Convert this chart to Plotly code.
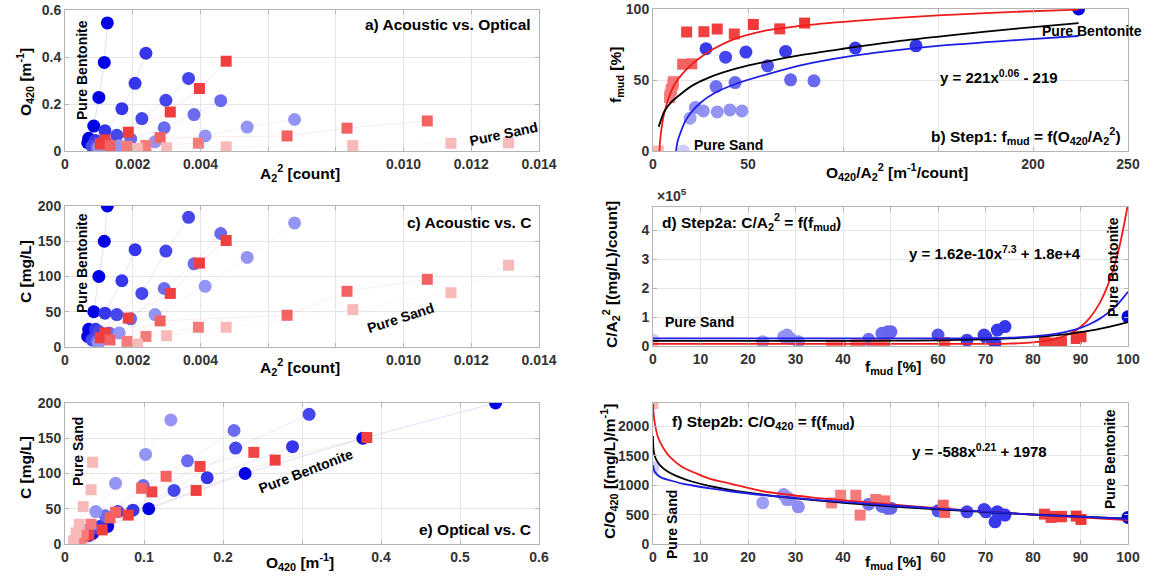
import plotly.graph_objects as go

W, H = 1149, 578

# ---------------- Panels a, c, e : per-series measurements ----------------
# A2^2 [count], O420 [1/m], C [mg/L]
bent100_A = [0.00067, 0.00070, 0.00085, 0.00100, 0.00116, 0.00125]
bent100_O = [0.035, 0.054, 0.106, 0.228, 0.377, 0.545]
bent100_C = [15, 25, 50, 100, 150, 200]

mixB74_A = [0.00085, 0.00090, 0.00118, 0.00168, 0.00207, 0.00239]
mixB74_O = [0.030, 0.045, 0.086, 0.180, 0.288, 0.416]
mixB74_C = [12, 25, 48, 94, 138, None]

mixB66_A = [0.00080, 0.00100, 0.00153, 0.00227, 0.00298, 0.00365]
mixB66_O = [0.020, 0.035, 0.067, 0.138, 0.216, 0.309]
mixB66_C = [10, 22, 46, 76, 136, 184]

mixB48_A = [0.00095, 0.00130, 0.00194, 0.00293, 0.00381, 0.00460]
mixB48_O = [0.015, 0.028, 0.051, 0.099, 0.155, 0.214]
mixB48_C = [8, 20, 40, 83, 118, 161]

mixB28_A = [0.00100, 0.00160, 0.00266, 0.00414, 0.00538, 0.00678]
mixB28_O = [0.012, 0.022, 0.039, 0.064, 0.102, 0.134]
mixB28_C = [6, 20, 46, 86, 127, 176]

mudR86_A = [0.00104, 0.00118, 0.00187, 0.00311, 0.00397, 0.00476]
mudR86_O = [0.030, 0.047, 0.080, 0.166, 0.266, 0.382]
mudR86_C = [13, 20, 41, 76, 119, 151]

mudR84_A = [None, None, None]
mudR84_O = [0.110, 0.171, 0.239]
mudR84_C = [74, 110, 130]

mudR61_A = [0.00133, 0.00281, 0.00656, 0.00833, 0.01070]
mudR61_O = [0.023, 0.057, 0.064, 0.097, 0.128]
mudR61_C = [10, 37, 45, 79, 96]

mudR43_A = [0.00183, 0.00239, 0.00394]
mudR43_O = [0.020, 0.023, 0.033]
mudR43_C = [8, 15, 28]

sandR0_A = [0.00214, 0.00300, 0.00476, 0.00850, 0.01140, 0.01310]
sandR0_O = [0.011, 0.014, 0.018, 0.023, 0.033, 0.035]
sandR0_C = [4, 16, 28, 53, 77, 116]

# ---------------- Panels b, d, f : per-series ratios ----------------
blue_fmud = [0, 23.1, 27.5, 28.2, 28.2, 28.9, 30.6, 45.4, 48.2, 49.4, 50.1, 60.0, 66.1, 69.7, 70.1, 72.0, 72.5, 74.1, 100]
blue_OA = [16, 19.5, 33.8, 26.5, 46.8, 40.5, 22.3, 33.2, 43.2, 84.7, 72.4, 60.3, 38.2, 48.9, 69.8, 27.9, 106.5, 138.4, 224]
blue_CA = [0.20, 0.15, 0.32, 0.38, 0.30, 0.26, 0.15, 0.23, 0.44, 0.49, 0.49, 0.38, 0.20, 0.38, 0.30, 0.10, 0.55, 0.67, 1.01]
blue_CO = [1300, 700, 842, 757, 800, 760, 632, 678, 640, 605, 610, 565, 548, 588, 548, 378, 548, 492, 452]

red_fmud = [0, 37.6, 39.5, 42.7, 43.6, 46.9, 48.8, 61.1, 61.4, 82.4, 83.8, 84.0, 85.9, 86.0, 89.1, 90.1]
red_OA = [2.8, 8.7, 8.9, 9.5, 9.8, 10.5, 10.7, 15.6, 20.4, 42.8, 17.7, 26.8, 33.8, 66.7, 52.8, 79.8]
red_CA = [0.03, 0.03, 0.03, 0.04, 0.03, 0.04, 0.05, 0.11, 0.11, 0.15, 0.09, 0.10, 0.11, 0.13, 0.26, 0.32]
red_CO = [2390, 700, 830, 830, 492, 757, 734, 661, 537, 508, 452, 470, 463, 470, 475, 418]

# ---------------- fitted curves ----------------
fb_black_x = [3, 4, 6, 10, 15, 20, 30, 45, 60, 80, 100, 130, 160, 190, 224]
fb_black_y = [17, 21, 28, 35, 40.5, 45.5, 52, 58.5, 63, 68, 72, 77.5, 82, 86, 90]
fb_red_x = [3.4, 3.8, 4.5, 5.5, 7, 9, 11, 14, 18, 24, 32, 43, 58, 80, 110, 150, 190, 224]
fb_red_y = [0, 8, 16, 24, 32, 40, 46, 52, 58, 65, 72, 79, 84.5, 88.5, 92, 95.5, 98, 99.5]
fb_blue_x = [12.1, 13, 14.5, 17, 20, 25, 32, 43, 60, 80, 100, 125, 150, 190, 224]
fb_blue_y = [0, 7, 13, 21, 27, 34, 40.5, 47, 54, 61, 66, 70.5, 74, 78, 81]

fd_x = [0, 40, 50, 60, 70, 75, 80, 85, 88, 90, 92, 94, 96, 98, 100]
fd_black = [0.18, 0.18, 0.184, 0.196, 0.228, 0.26, 0.306, 0.376, 0.43, 0.478, 0.53, 0.59, 0.66, 0.74, 0.825]
fd_blue = [0.26, 0.26, 0.26, 0.261, 0.271, 0.289, 0.331, 0.425, 0.529, 0.628, 0.761, 0.937, 1.169, 1.473, 1.87]
fd_red = [0.07, 0.07, 0.07, 0.07, 0.074, 0.085, 0.126, 0.257, 0.445, 0.657, 0.981, 1.471, 2.205, 3.295, 4.9]

ff_black_x = [0.001, 0.01, 0.1, 0.3, 0.7, 1.5, 3, 5, 8, 12, 20, 30, 45, 60, 80, 100]
ff_black_y = [1840, 1754, 1615, 1521, 1432, 1338, 1237, 1154, 1068, 987, 875, 777, 670, 589, 502, 432]
ff_red_x = [0.02, 0.1, 0.4, 1, 1.5, 2.5, 3.6, 6, 9.2, 12, 16.2, 23.2, 33.7, 44.3, 55, 65, 75, 85, 100]
ff_red_y = [2385, 2250, 2046, 1830, 1734, 1590, 1480, 1320, 1198, 1110, 1029, 898, 791, 717, 640, 580, 525, 475, 407]
ff_blue_x = [0.02, 0.2, 0.5, 1, 2, 3.6, 6, 9.2, 12, 16.2, 23.2, 33.7, 44.3, 55, 65, 75, 85, 100]
ff_blue_y = [1339, 1260, 1215, 1170, 1120, 1085, 1030, 983, 945, 898, 831, 757, 690, 630, 575, 525, 480, 430]

# ---------------- ticks (labelled) and unlabelled grid positions ----------------
tick_A = [0, 0.002, 0.004, 0.010, 0.012, 0.014]
tick_A_txt = ['0', '0.002', '0.004', '0.010', '0.012', '0.014']
grid_A = [0.006, 0.008]
tick_O = [0, 0.2, 0.4, 0.6]
tick_O_txt = ['0', '0.2', '0.4', '0.6']
tick_C = [0, 50, 100, 150, 200]
tick_OA = [0, 50, 200, 250]
grid_OA = [100, 150]
tick_f100 = [0, 50, 100]
tick_fm = [0, 10, 20, 30, 40, 60, 70, 80, 90, 100]
grid_fm = [50]
tick_CA = [0, 1, 2, 3, 4]
tick_Oe = [0, 0.1, 0.2, 0.4, 0.5, 0.6]
tick_Oe_txt = ['0', '0.1', '0.2', '0.4', '0.5', '0.6']
grid_Oe = [0.3]
tick_CO = [0, 500, 1000, 1500, 2000]

FONT = "Liberation Sans, Arial, Helvetica, sans-serif"


def colour(kind, f):
    if kind == 'b':
        t = f / 100.0
        c0, c1 = (205, 205, 250), (0, 0, 230)
    else:
        t = min(f / 90.0, 1.0)
        c0, c1 = (250, 185, 185), (240, 55, 55)
    return 'rgb(%d,%d,%d)' % tuple(round(a + (b - a) * t) for a, b in zip(c0, c1))


def rgba(kind, f, a):
    c = colour(kind, f)[4:-1]
    return 'rgba(%s,%s)' % (c, a)


fig = go.Figure()

series = [
    ('b', 100, bent100_A, bent100_O, bent100_C),
    ('b', 74, mixB74_A, mixB74_O, mixB74_C),
    ('b', 66, mixB66_A, mixB66_O, mixB66_C),
    ('b', 48, mixB48_A, mixB48_O, mixB48_C),
    ('b', 28, mixB28_A, mixB28_O, mixB28_C),
    ('r', 86, mudR86_A, mudR86_O, mudR86_C),
    ('r', 80, mudR84_A, mudR84_O, mudR84_C),
    ('r', 61, mudR61_A, mudR61_O, mudR61_C),
    ('r', 43, mudR43_A, mudR43_O, mudR43_C),
    ('r', 0, sandR0_A, sandR0_O, sandR0_C),
]

for kind, f, A, O, C in series:
    sym = 'circle' if kind == 'b' else 'square'
    size = 13 if kind == 'b' else 11
    mk = dict(symbol=sym, size=size, color=colour(kind, f), line=dict(width=0))
    ln = dict(color=rgba(kind, f, 0.16), width=0.8)
    for (xs, ys, xa, ya) in [(A, O, 'x', 'y'), (A, C, 'x3', 'y3'), (O, C, 'x5', 'y5')]:
        fig.add_trace(go.Scatter(x=xs, y=ys, mode='lines+markers', marker=mk, line=ln,
                                 connectgaps=True, xaxis=xa, yaxis=ya, hoverinfo='skip'))

bcol = [colour('b', f) for f in blue_fmud]
rcol = [colour('r', f) for f in red_fmud]

for (bx, by, rx, ry, xa, ya) in [
    (blue_OA, blue_fmud, red_OA, red_fmud, 'x2', 'y2'),
    (blue_fmud, blue_CA, red_fmud, red_CA, 'x4', 'y4'),
    (blue_fmud, blue_CO, red_fmud, red_CO, 'x6', 'y6'),
]:
    fig.add_trace(go.Scatter(x=bx, y=by, mode='markers', xaxis=xa, yaxis=ya, hoverinfo='skip',
                             marker=dict(symbol='circle', size=13, color=bcol, line=dict(width=0))))
    fig.add_trace(go.Scatter(x=rx, y=ry, mode='markers', xaxis=xa, yaxis=ya, hoverinfo='skip',
                             marker=dict(symbol='square', size=11, color=rcol, line=dict(width=0))))

RED, BLUE, BLACK = '#ee1c1c', '#1e1ee6', '#000000'
for (x, y, c, xa, ya) in [
    (fb_red_x, fb_red_y, RED, 'x2', 'y2'),
    (fb_black_x, fb_black_y, BLACK, 'x2', 'y2'),
    (fb_blue_x, fb_blue_y, BLUE, 'x2', 'y2'),
    (fd_x, fd_red, RED, 'x4', 'y4'),
    (fd_x, fd_black, BLACK, 'x4', 'y4'),
    (fd_x, fd_blue, BLUE, 'x4', 'y4'),
    (ff_red_x, ff_red_y, RED, 'x6', 'y6'),
    (ff_black_x, ff_black_y, BLACK, 'x6', 'y6'),
    (ff_blue_x, ff_blue_y, BLUE, 'x6', 'y6'),
]:
    fig.add_trace(go.Scatter(x=x, y=y, mode='lines', line=dict(color=c, width=1.8, shape='spline', smoothing=0.8),
                             xaxis=xa, yaxis=ya, hoverinfo='skip'))


def dx(p0, p1):
    return [p0 / W, p1 / W]


def dy(p0, p1):
    return [1 - p1 / H, 1 - p0 / H]


GRID = '#e6e6e6'
FRAME = '#b4b4b4'
TF = dict(family=FONT, size=14, color='#333333', weight='bold')
base = dict(showgrid=True, gridcolor=GRID, gridwidth=1, showline=True, linecolor=FRAME,
            linewidth=1, mirror='ticks', ticks='inside', ticklen=4, tickcolor=FRAME,
            zeroline=False, tickfont=TF, tickmode='array', automargin=False)


def minor(vals):
    return dict(tickmode='array', tickvals=vals, showgrid=True, gridcolor=GRID, gridwidth=1,
                ticks='inside', ticklen=4, tickcolor=FRAME)


lay = {}
lay['xaxis'] = dict(base, domain=dx(65, 539), range=[0, 0.014], tickvals=tick_A, ticktext=tick_A_txt,
                    minor=minor(grid_A), anchor='y')
lay['yaxis'] = dict(base, domain=dy(10, 151), range=[0, 0.6], tickvals=tick_O, ticktext=tick_O_txt, anchor='x')
lay['xaxis2'] = dict(base, domain=dx(653, 1128), range=[0, 250], tickvals=tick_OA, minor=minor(grid_OA), anchor='y2')
lay['yaxis2'] = dict(base, domain=dy(9, 151), range=[0, 100], tickvals=tick_f100, anchor='x2')
lay['xaxis3'] = dict(base, domain=dx(65, 539), range=[0, 0.014], tickvals=tick_A, ticktext=tick_A_txt,
                     minor=minor(grid_A), anchor='y3')
lay['yaxis3'] = dict(base, domain=dy(206, 347), range=[0, 200], tickvals=tick_C, anchor='x3')
lay['xaxis4'] = dict(base, domain=dx(653, 1128), range=[0, 100], tickvals=tick_fm, minor=minor(grid_fm), anchor='y4')
lay['yaxis4'] = dict(base, domain=dy(207, 346), range=[0, 4.8], tickvals=tick_CA, anchor='x4')
lay['xaxis5'] = dict(base, domain=dx(65, 539), range=[0, 0.6], tickvals=tick_Oe, ticktext=tick_Oe_txt,
                     minor=minor(grid_Oe), anchor='y5')
lay['yaxis5'] = dict(base, domain=dy(403, 544), range=[0, 200], tickvals=tick_C, anchor='x5')
lay['xaxis6'] = dict(base, domain=dx(653, 1128), range=[0, 100], tickvals=tick_fm, minor=minor(grid_fm), anchor='y6')
lay['yaxis6'] = dict(base, domain=dy(403, 544), range=[0, 2400], tickvals=tick_CO, anchor='x6')

anns = []


def ann(xp, yp, text, size=15, angle=0, xanchor='center', color='#000000'):
    anns.append(dict(x=xp / W, y=1 - yp / H, xref='paper', yref='paper', text=text, showarrow=False,
                     textangle=angle, xanchor=xanchor, yanchor='middle',
                     font=dict(family=FONT, size=size, color=color, weight='bold')))


A22 = 'A<sub>2</sub><sup>2</sup>'
# axis titles
ann(25, 82, 'O<sub>420</sub> [m<sup>-1</sup>]', 15.5, -90)
ann(300, 173, A22 + ' [count]', 15.5)
ann(616, 75, 'f<sub>mud</sub> [%]', 15.5, -90)
ann(897, 172, 'O<sub>420</sub>/' + A22 + ' [m<sup>-1</sup>/count]', 15.5)
ann(25, 272, 'C [mg/L]', 15.5, -90)
ann(300, 367, A22 + ' [count]', 15.5)
ann(611, 275, 'C/' + A22 + ' [(mg/L)/count]', 15.5, -90)
ann(893, 367, 'f<sub>mud</sub> [%]', 15.5)
ann(25, 468, 'C [mg/L]', 15.5, -90)
ann(300, 562, 'O<sub>420</sub> [m<sup>-1</sup>]', 15.5)
ann(609, 472, 'C/O<sub>420</sub> [(mg/L)/m<sup>-1</sup>]', 15.5, -90)
ann(893, 562, 'f<sub>mud</sub> [%]', 15.5)

# panel labels
ann(533, 25, 'a) Acoustic vs. Optical', 15.5, 0, 'right')
ann(1123, 136, 'b) Step1: f<sub>mud</sub> = f(O<sub>420</sub>/' + A22 + ')', 15.5, 0, 'right')
ann(533, 222, 'c) Acoustic vs. C', 15.5, 0, 'right')
ann(660, 222, 'd) Step2a: C/' + A22 + ' = f(f<sub>mud</sub>)', 15.5, 0, 'left')
ann(533, 529, 'e) Optical vs. C', 15.5, 0, 'right')
ann(670, 422, 'f) Step2b: C/O<sub>420</sub> = f(f<sub>mud</sub>)', 15.5, 0, 'left')

# equations and notes
ann(999, 77, 'y = 221x<sup>0.06</sup> - 219', 15)
ann(995, 253, 'y = 1.62e-10x<sup>7.3</sup> + 1.8e+4', 15)
ann(979, 450, 'y = -588x<sup>0.21</sup> + 1978', 15)
ann(655, 195, '\u00d710<sup>5</sup>', 14, 0, 'left', '#333333')

ann(82, 70, 'Pure Bentonite', 14, -90)
ann(503, 134, 'Pure Sand', 14, -12)
ann(1092, 31, 'Pure Bentonite', 14)
ann(728, 145, 'Pure Sand', 14)
ann(82, 263, 'Pure Bentonite', 14, -90)
ann(400, 318, 'Pure Sand', 14, -18)
ann(1113, 267, 'Pure Bentonite', 14, -90)
ann(699, 322, 'Pure Sand', 14)
ann(78, 452, 'Pure Sand', 14, -90)
ann(306, 471, 'Pure Bentonite', 14, -21)
ann(1110, 459, 'Pure Bentonite', 14, -90)
ann(672, 525, 'Pure Sand', 14, -90)

fig.update_layout(
    width=W, height=H, margin=dict(l=0, r=0, t=0, b=0, pad=0, autoexpand=False), showlegend=False,
    paper_bgcolor='white', plot_bgcolor='white',
    font=dict(family=FONT, size=14, color='#000000', weight='bold'),
    annotations=anns, **lay)

fig.write_html('out.html')
